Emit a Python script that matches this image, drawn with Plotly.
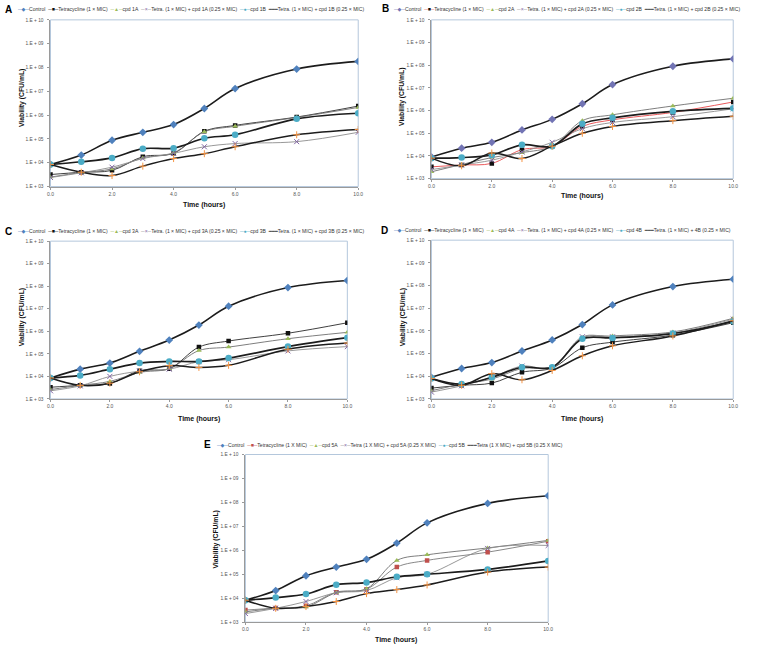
import plotly.graph_objects as go

# ---------------- data ----------------
time_h = [0, 1, 2, 3, 4, 5, 6, 8, 10]

# Panel A
control_A = [8.5e3, 2.1e4, 8.8e4, 1.9e5, 4.0e5, 1.9e6, 1.3e7, 8.6e7, 1.8e8]
tetra_A = [3.2e3, 4.0e3, 4.8e3, 1.8e4, 2.5e4, 2.1e5, 3.7e5, 8.3e5, 2.4e6]
cpd1A = [2.5e3, 3.9e3, 5.5e3, 1.6e4, 2.6e4, 2.0e5, 3.4e5, 8.0e5, 2.1e6]
tetra_cpd1A = [2.4e3, 3.8e3, 6.5e3, 1.5e4, 2.5e4, 4.7e4, 6.4e4, 7.7e4, 1.9e5]
cpd1B = [8.5e3, 1.1e4, 1.6e4, 3.9e4, 4.1e4, 1.07e5, 1.5e5, 7.0e5, 1.2e6]
tetra_cpd1B = [8.5e3, 4.0e3, 2.9e3, 7.2e3, 1.5e4, 2.4e4, 4.7e4, 1.5e5, 2.5e5]

# Panel B
control_B = [9.0e3, 2.2e4, 4.0e4, 1.4e5, 4.1e5, 2.0e6, 1.4e7, 9.0e7, 1.9e8]
tetra_B = [3.3e3, 4.0e3, 4.7e3, 1.9e4, 2.7e4, 2.0e5, 3.9e5, 8.3e5, 2.4e6]
cpd2A = [2.0e3, 4.2e3, 8.5e3, 1.4e4, 2.7e4, 3.6e5, 6.5e5, 1.6e6, 3.5e6]
tetra_cpd2A = [2.5e3, 4.0e3, 6.5e3, 1.5e4, 4.0e4, 1.6e5, 3.0e5, 5.4e5, 1.2e6]
cpd2B = [8.0e3, 8.5e3, 1.1e4, 3.1e4, 2.7e4, 2.6e5, 4.8e5, 9.3e5, 1.26e6]
tetra_cpd2B = [8.0e3, 3.7e3, 1.35e4, 7.7e3, 2.7e4, 1.0e5, 2.0e5, 3.6e5, 5.6e5]

# Panel C
control_C = [8.5e3, 2.1e4, 3.9e4, 1.3e5, 4.1e5, 1.9e6, 1.3e7, 8.7e7, 1.8e8]
tetra_C = [3.3e3, 4.0e3, 4.8e3, 1.8e4, 2.2e4, 2.0e5, 3.7e5, 8.2e5, 2.4e6]
cpd3A = [2.6e3, 4.0e3, 6.0e3, 1.5e4, 2.2e4, 1.4e5, 2.0e5, 4.7e5, 9.0e5]
tetra_cpd3A = [2.3e3, 3.8e3, 1.0e4, 1.7e4, 2.1e4, 4.5e4, 5.5e4, 1.35e5, 2.1e5]
cpd3B = [8.5e3, 1.1e4, 2.1e4, 3.9e4, 4.6e4, 4.6e4, 6.5e4, 2.1e5, 5.2e5]
tetra_cpd3B = [8.5e3, 4.0e3, 5.0e3, 1.6e4, 3.0e4, 2.5e4, 3.1e4, 1.6e5, 3.0e5]

# Panel D
control_D = [9.0e3, 2.2e4, 4.0e4, 1.3e5, 4.0e5, 1.9e6, 1.4e7, 9.0e7, 1.9e8]
tetra_D = [3.0e3, 4.0e3, 5.0e3, 1.5e4, 2.3e4, 1.8e5, 3.2e5, 6.5e5, 2.3e6]
cpd4A = [2.3e3, 4.5e3, 7.5e3, 2.2e4, 2.6e4, 5.0e5, 6.0e5, 9.0e5, 3.6e6]
tetra_cpd4A = [2.0e3, 3.8e3, 9.0e3, 2.8e4, 2.4e4, 5.5e5, 5.5e5, 8.0e5, 3.3e6]
cpd4B = [8.0e3, 4.5e3, 9.0e3, 2.5e4, 2.5e4, 4.5e5, 4.9e5, 7.6e5, 2.6e6]
tetra_cpd4B = [8.0e3, 4.0e3, 1.3e4, 7.0e3, 1.8e4, 8.0e4, 2.2e5, 6.0e5, 2.8e6]

# Panel E
control_E = [8.3e3, 2.1e4, 8.7e4, 2.0e5, 4.2e5, 2.0e6, 1.4e7, 9.1e7, 1.9e8]
tetra_E = [3.2e3, 3.9e3, 4.8e3, 1.8e4, 2.4e4, 2.0e5, 3.8e5, 8.4e5, 2.4e6]
cpd5A = [2.7e3, 3.8e3, 4.3e3, 1.7e4, 2.5e4, 3.8e5, 6.5e5, 1.26e6, 2.6e6]
tetra_cpd5A = [2.3e3, 3.8e3, 7.3e3, 1.7e4, 2.1e4, 7.2e4, 1.0e5, 1.2e6, 1.6e6]
cpd5B = [8.3e3, 1.07e4, 1.5e4, 3.7e4, 4.5e4, 7.9e4, 1.0e5, 1.6e5, 3.6e5]
tetra_cpd5B = [8.3e3, 3.8e3, 4.5e3, 7.3e3, 1.56e4, 2.3e4, 3.6e4, 1.24e5, 2.0e5]

labels_A = ["Control", "Tetracycline (1 × MIC)", "cpd 1A", "Tetra. (1 × MIC) + cpd 1A (0.25 × MIC)",
            "cpd 1B", "Tetra. (1 × MIC) + cpd 1B (0.25 × MIC)"]
labels_B = ["Control", "Tetracycline (1 × MIC)", "cpd 2A", "Tetra. (1 × MIC) + cpd 2A (0.25 × MIC)",
            "cpd 2B", "Tetra. (1 × MIC) + cpd 2B (0.25 × MIC)"]
labels_C = ["Control", "Tetracycline (1 × MIC)", "cpd 3A", "Tetra. (1 × MIC) + cpd 3A (0.25 × MIC)",
            "cpd 3B", "Tetra. (1 × MIC) + cpd 3B (0.25 × MIC)"]
labels_D = ["Control", "Tetracycline (1 × MIC)", "cpd 4A", "Tetra. (1 × MIC) + cpd 4A (0.25 × MIC)",
            "cpd 4B", "Tetra. (1 × MIC) + 4B (0.25 × MIC)"]
labels_E = ["Control", "Tetracycline (1 X MIC)", "cpd 5A", "Tetra (1 X MIC) + cpd 5A (0.25 X MIC)",
            "cpd 5B", "Tetra (1 X MIC) + cpd 5B (0.25 X MIC)"]

y_tick_vals = [1e3, 1e4, 1e5, 1e6, 1e7, 1e8, 1e9, 1e10]
y_tick_text = ["1.E + 03", "1.E + 04", "1.E + 05", "1.E + 06", "1.E + 07", "1.E + 08", "1.E + 09", "1.E + 10"]
x_tick_vals = [0, 2, 4, 6, 8, 10]
x_tick_text = ["0.0", "2.0", "4.0", "6.0", "8.0", "10.0"]

# ---------------- styling / layout ----------------
W, H = 760, 652
FONT = "Liberation Sans, Arial, DejaVu Sans, sans-serif"

def xp(px):
    return px / W

def yp(py):
    return 1 - py / H

# panel geometry in pixels: box=(left, right, top(1E+10), bottom(1E+03)), other positions are centres
panels = [
    dict(name="A", series=[control_A, tetra_A, cpd1A, tetra_cpd1A, cpd1B, tetra_cpd1B], labels=labels_A,
         box=(48, 359, 18, 186), letter=(6, 8), leg=(12, 7), ytitle=(19, 97), xtitle=(203, 205),
         tetra_line="#2a2a2a", tetra_marker="#111111", ctrl_marker="#4F81BD", tetra_leg="#111111"),
    dict(name="B", series=[control_B, tetra_B, cpd2A, tetra_cpd2A, cpd2B, tetra_cpd2B], labels=labels_B,
         box=(433, 738, 18, 178), letter=(387, 7), leg=(392, 7), ytitle=(404, 96), xtitle=(585, 196),
         tetra_line="#E8474A", tetra_marker="#111111", ctrl_marker="#7274B4", tetra_leg="#E8474A"),
    dict(name="C", series=[control_C, tetra_C, cpd3A, tetra_cpd3A, cpd3B, tetra_cpd3B], labels=labels_C,
         box=(48, 348, 241, 400), letter=(6, 231), leg=(12, 231), ytitle=(19, 318), xtitle=(198, 420),
         tetra_line="#2a2a2a", tetra_marker="#111111", ctrl_marker="#4F81BD", tetra_leg="#111111"),
    dict(name="D", series=[control_D, tetra_D, cpd4A, tetra_cpd4A, cpd4B, tetra_cpd4B], labels=labels_D,
         box=(433, 738, 240, 400), letter=(386, 230), leg=(392, 230), ytitle=(404, 318), xtitle=(585, 420),
         tetra_line="#2a2a2a", tetra_marker="#111111", ctrl_marker="#4F81BD", tetra_leg="#111111"),
    dict(name="E", series=[control_E, tetra_E, cpd5A, tetra_cpd5A, cpd5B, tetra_cpd5B], labels=labels_E,
         box=(245, 551, 456, 625), letter=(207, 446), leg=(213, 446), ytitle=(215, 542), xtitle=(397, 643),
         tetra_line="#7a7a7a", tetra_marker="#C0504D", ctrl_marker="#4F81BD", tetra_leg="#C0504D"),
]

fig = go.Figure()
annotations = []
shapes = []

for i, p in enumerate(panels):
    n = "" if i == 0 else str(i + 1)
    xa, ya = "x" + n, "y" + n
    l, r, t, b = p["box"]
    ctrl, tet, ca, tca, cb, tcb = p["series"]
    styles = [
        (ctrl, dict(color="#1c1c1c", width=1.6), dict(symbol="diamond", size=6, color=p["ctrl_marker"])),
        (tet, dict(color=p["tetra_line"], width=0.9), dict(symbol="square", size=4.5, color=p["tetra_marker"])),
        (ca, dict(color="#6f6f6f", width=0.9), dict(symbol="triangle-up", size=5, color="#9BBB59")),
        (tca, dict(color="#8c8c8c", width=0.9), dict(symbol="x-thin", size=5, color="#8064A2",
                                                      line=dict(color="#8064A2", width=1))),
        (cb, dict(color="#1c1c1c", width=1.7), dict(symbol="circle", size=6.5, color="#4BACC6")),
        (tcb, dict(color="#1c1c1c", width=1.5), dict(symbol="cross-thin", size=5, color="#F79646",
                                                     line=dict(color="#F79646", width=1))),
    ]
    for k, (vals, ln, mk) in enumerate(styles):
        fig.add_trace(go.Scatter(
            x=time_h, y=vals, mode="lines+markers", name=p["labels"][k],
            line=dict(shape="spline", smoothing=1.0, **ln), marker=mk,
            xaxis=xa, yaxis=ya, showlegend=False, hoverinfo="skip"))

    fig.update_layout(**{
        ("xaxis" + n): dict(domain=[xp(l), xp(r)], range=[0, 10], anchor=ya,
                            tickvals=x_tick_vals, ticktext=x_tick_text, showgrid=False, zeroline=False,
                            showline=True, linecolor="#9a9a9a", linewidth=1, ticks="outside", ticklen=2,
                            tickcolor="#9a9a9a", tickfont=dict(size=5, color="#555555", family=FONT)),
        ("yaxis" + n): dict(domain=[yp(b), yp(t)], type="log", range=[3, 10], anchor=xa,
                            tickvals=y_tick_vals, ticktext=y_tick_text, showgrid=False, zeroline=False,
                            showline=True, linecolor="#9a9a9a", linewidth=1, ticks="outside", ticklen=2,
                            tickcolor="#9a9a9a", ticklabelstandoff=3,
                            tickfont=dict(size=4.8, color="#555555", family=FONT)),
    })
    # light blue plot-area frame (top/right)
    shapes.append(dict(type="rect", xref=xa + " domain", yref=ya + " domain", x0=0, x1=1, y0=0, y1=1,
                       line=dict(color="#B4C7DC", width=1), layer="below"))

    # titles
    annotations.append(dict(text="<b>Time (hours)</b>", x=xp(p["xtitle"][0]), y=yp(p["xtitle"][1]),
                            xref="paper", yref="paper", xanchor="center", yanchor="middle", showarrow=False,
                            font=dict(size=7, family=FONT, color="#111")))
    annotations.append(dict(text="<b>Viability (CFU/mL)</b>", x=xp(p["ytitle"][0]), y=yp(p["ytitle"][1]),
                            xref="paper", yref="paper", xanchor="center", yanchor="middle",
                            showarrow=False, textangle=-90,
                            font=dict(size=6.8, family=FONT, color="#111")))
    annotations.append(dict(text="<b>" + p["name"] + "</b>", x=xp(p["letter"][0]), y=yp(p["letter"][1]),
                            xref="paper", yref="paper", xanchor="center", yanchor="middle", showarrow=False,
                            font=dict(size=10, family=FONT, color="#000")))

    # legend row (rich text)
    leg_colors = [p["ctrl_marker"], p["tetra_leg"], "#9BBB59", "#8c8c8c", "#4BACC6", "#1c1c1c"]
    glyphs = ["─◆─", "─■─", "─▲─", "─×─", "─●─", "━━━"]
    glyph_inner = [p["ctrl_marker"], p["tetra_marker"], "#9BBB59", "#8064A2", "#4BACC6", "#1c1c1c"]
    parts = []
    for k in range(6):
        g = glyphs[k]
        sw = ("<span style='color:%s'>%s</span><span style='color:%s'>%s</span>"
              "<span style='color:%s'>%s</span>") % (leg_colors[k], g[0], glyph_inner[k], g[1],
                                                     leg_colors[k], g[2])
        parts.append(sw + p["labels"][k])
    leg_text = "\u00a0\u00a0".join(parts)
    annotations.append(dict(text=leg_text, x=xp(p["leg"][0]), y=yp(p["leg"][1]), xref="paper", yref="paper",
                            xanchor="left", yanchor="middle", showarrow=False,
                            font=dict(size=5.05, family=FONT, color="#333333")))

fig.update_layout(width=W, height=H, margin=dict(l=0, r=0, t=0, b=0), paper_bgcolor="white",
                  plot_bgcolor="white", showlegend=False, annotations=annotations, shapes=shapes,
                  font=dict(family=FONT))

fig.write_html("out.html", config={"displayModeBar": False, "staticPlot": True},
               post_script="document.body.style.margin='0';document.body.style.overflow='hidden';")
